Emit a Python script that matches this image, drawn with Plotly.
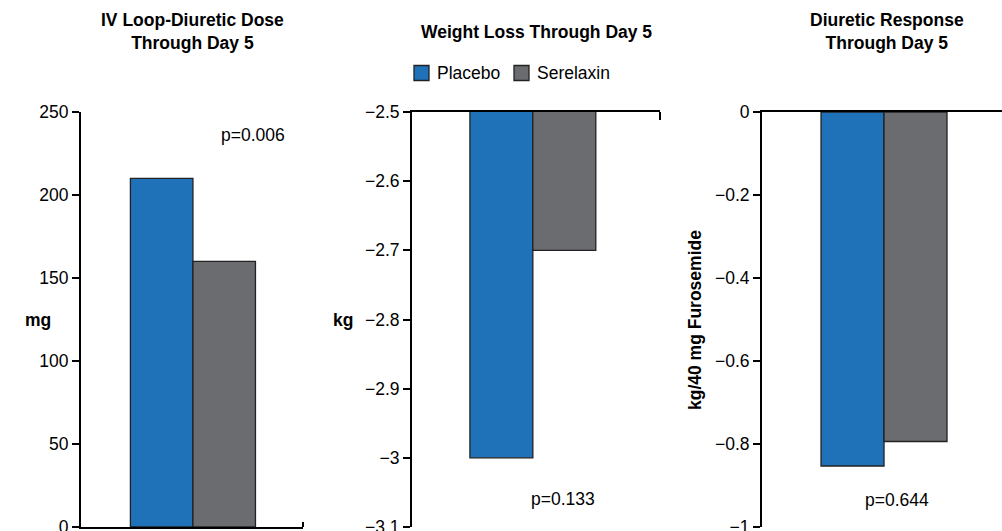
import plotly.graph_objects as go

# ---- data ----
groups = ["Placebo", "Serelaxin"]
colors = ["#1f71b8", "#6b6c70"]
dose_mg = [210, 160]
weight_kg = [-3.00, -2.70]
diuretic_resp = [-0.853, -0.794]

titles = ["IV Loop-Diuretic Dose<br>Through Day 5",
          "Weight Loss Through Day 5",
          "Diuretic Response<br>Through Day 5"]
pvals = ["p=0.006", "p=0.133", "p=0.644"]

y1_ticks = [0, 50, 100, 150, 200, 250]
y1_text = ["0", "50", "100", "150", "200", "250"]
y2_ticks = [-2.5, -2.6, -2.7, -2.8, -2.9, -3.0, -3.1]
y2_text = ["\u22122.5", "\u22122.6", "\u22122.7", "\u22122.8", "\u22122.9", "\u22123", "\u22123.1"]
y3_ticks = [0, -0.2, -0.4, -0.6, -0.8, -1.0]
y3_text = ["0", "\u22120.2", "\u22120.4", "\u22120.6", "\u22120.8", "\u22121"]

FONT = "Liberation Sans, Arial, Helvetica, sans-serif"
FS = 17.5
W, H = 1002, 531

def px(x):
    return x / W

def py(y):
    return (H - y) / H

fig = go.Figure()

series = [dose_mg, weight_kg, diuretic_resp]
for i, vals in enumerate(series):
    ax = "" if i == 0 else str(i + 1)
    for g, v, c in zip(groups, [vals[0], vals[1]], colors):
        fig.add_trace(go.Bar(
            x=[g], y=[v], width=1, name=g,
            marker=dict(color=c, line=dict(color="#222222", width=1.3)),
            xaxis="x" + ax, yaxis="y" + ax, showlegend=False,
        ))

ydom = [py(527), py(112)]
common_y = dict(showline=True, linecolor="black", linewidth=2, ticks="outside",
                ticklen=7, tickwidth=2, tickcolor="black", showgrid=False,
                zeroline=False, tickfont=dict(size=FS, color="black", family=FONT),
                domain=ydom, automargin=False, ticklabeloverflow="allow")
common_x = dict(showline=True, linecolor="black", linewidth=2, showgrid=False,
                zeroline=False, showticklabels=False, ticks="",
                type="category", automargin=False)

fig.update_layout(
    width=W, height=H, autosize=False,
    margin=dict(l=0, r=0, t=0, b=0, pad=0),
    paper_bgcolor="white", plot_bgcolor="white",
    barmode="overlay",
    font=dict(family=FONT, size=FS, color="black"),
    xaxis=dict(common_x, domain=[px(81), px(303)], range=[-1.29, 2.26],
               anchor="y", side="bottom"),
    yaxis=dict(common_y, range=[0, 250], tickvals=y1_ticks, ticktext=y1_text,
               anchor="x"),
    xaxis2=dict(common_x, domain=[px(412), px(660)], range=[-1.42, 2.52],
                anchor="y2", side="top"),
    yaxis2=dict(common_y, range=[-3.1, -2.5], tickvals=y2_ticks, ticktext=y2_text,
                anchor="x2"),
    xaxis3=dict(common_x, domain=[px(762), 1.0], range=[-1.437, 2.373],
                anchor="y3", side="top"),
    yaxis3=dict(common_y, range=[-1.0, 0], tickvals=y3_ticks, ticktext=y3_text,
                anchor="x3"),
)

ann = []
# titles
title_pos = [(192, 32), (536, 32), (887, 32)]
for t, (x, y) in zip(titles, title_pos):
    ann.append(dict(text="<b>" + t + "</b>", x=px(x), y=py(y), xref="paper", yref="paper",
                    showarrow=False, xanchor="center", yanchor="middle",
                    font=dict(size=FS, color="black", family=FONT)))
# p-values
p_pos = [(253, 135), (563, 499), (897, 500)]
for t, (x, y) in zip(pvals, p_pos):
    ann.append(dict(text=t, x=px(x), y=py(y), xref="paper", yref="paper",
                    showarrow=False, xanchor="center", yanchor="middle",
                    font=dict(size=FS, color="black", family=FONT)))
# axis labels
ann.append(dict(text="<b>mg</b>", x=px(38), y=py(320), xref="paper", yref="paper",
                showarrow=False, xanchor="center", yanchor="middle",
                font=dict(size=FS, color="black", family=FONT)))
ann.append(dict(text="<b>kg</b>", x=px(343), y=py(320), xref="paper", yref="paper",
                showarrow=False, xanchor="center", yanchor="middle",
                font=dict(size=FS, color="black", family=FONT)))
ann.append(dict(text="<b>kg/40 mg Furosemide</b>", x=px(695), y=py(320), xref="paper",
                yref="paper", showarrow=False, xanchor="center", yanchor="middle",
                textangle=-90, font=dict(size=FS, color="black", family=FONT)))
# legend labels
leg_sq_x = [414, 514]
for g, c, x0 in zip(groups, colors, leg_sq_x):
    ann.append(dict(text=g, x=px(x0 + 21), y=py(73), xref="paper", yref="paper",
                    showarrow=False, xanchor="left", yanchor="middle",
                    font=dict(size=FS, color="black", family=FONT)))

shapes = []
for c, x0 in zip(colors, leg_sq_x):
    shapes.append(dict(type="rect", xref="paper", yref="paper",
                       x0=px(x0), x1=px(x0 + 15), y0=py(80.5), y1=py(65.5),
                       fillcolor=c, line=dict(color="#222222", width=1.3)))
# small end ticks on category axes
shapes.append(dict(type="line", xref="paper", yref="paper", x0=px(303), x1=px(303),
                   y0=py(527), y1=py(522), line=dict(color="black", width=2)))
shapes.append(dict(type="line", xref="paper", yref="paper", x0=px(660), x1=px(660),
                   y0=py(112), y1=py(120), line=dict(color="black", width=2)))

fig.update_layout(annotations=ann, shapes=shapes)

post = ("document.body.style.margin='0px';document.body.style.padding='0px';"
        "document.documentElement.style.overflow='hidden';"
        "var d=document.getElementById('{plot_id}');"
        "d.style.position='fixed';d.style.left='0px';d.style.top='0px';")

fig.write_html("out.html", post_script=post, config={"displayModeBar": False})
